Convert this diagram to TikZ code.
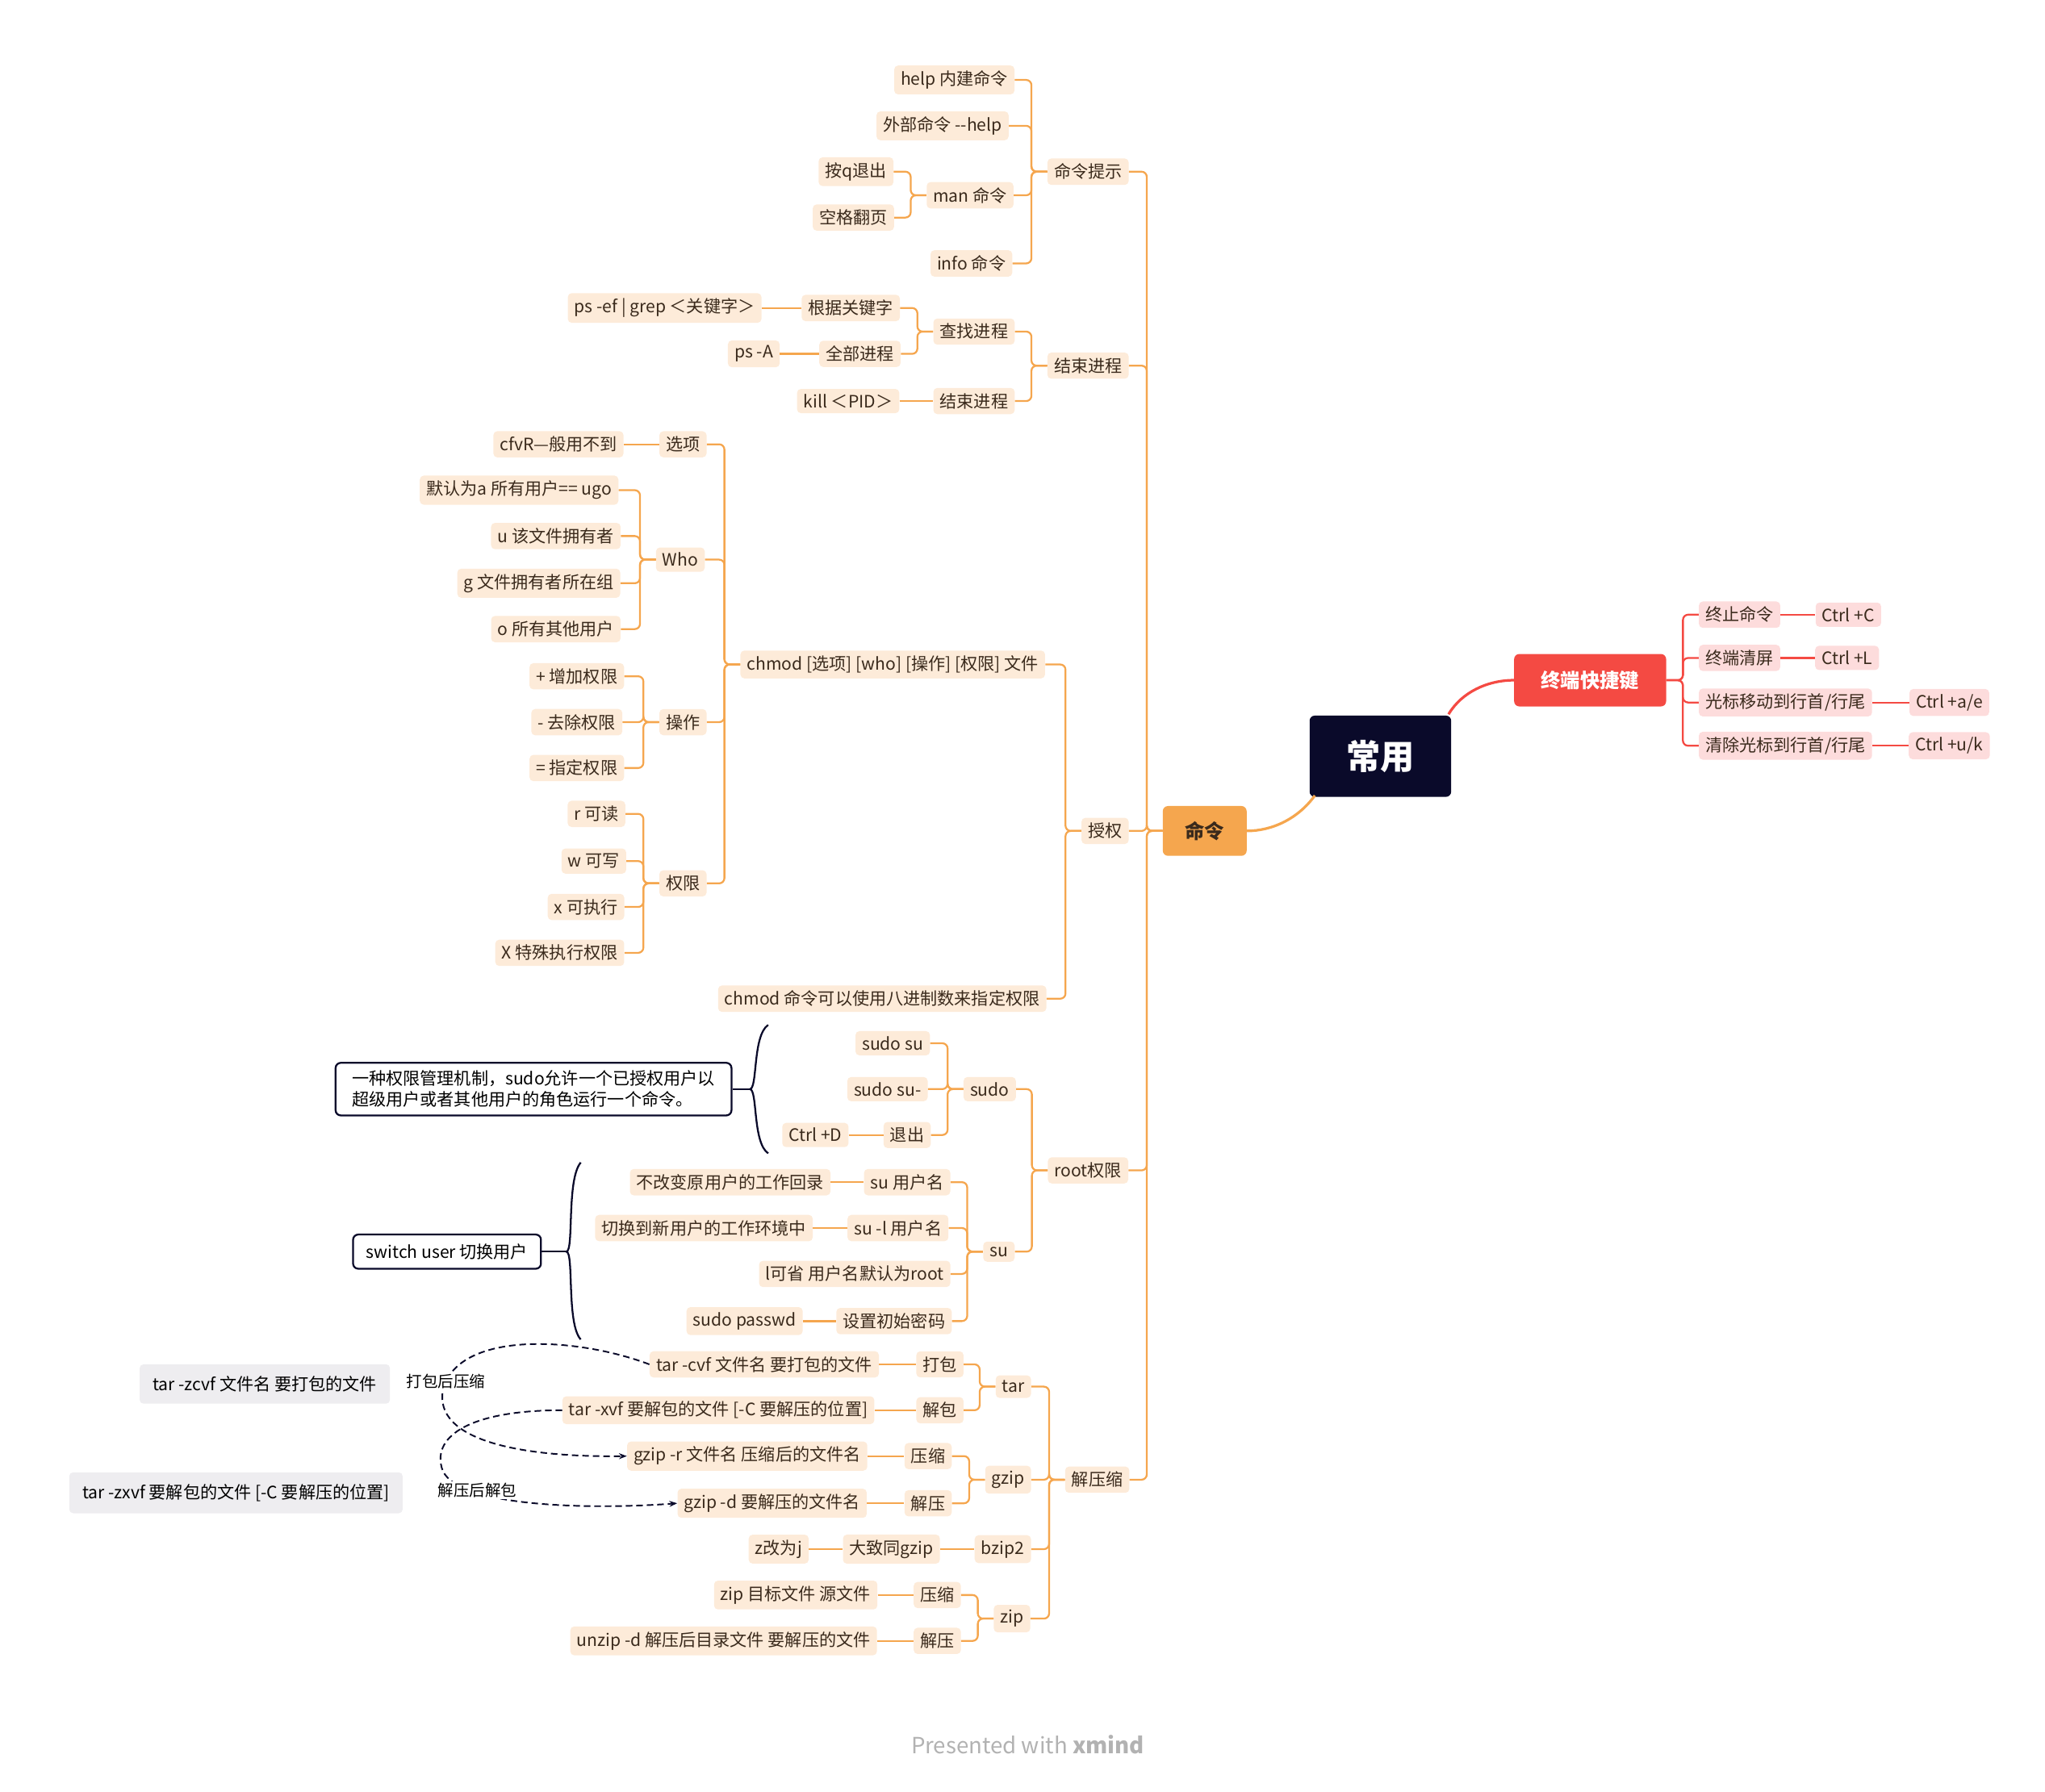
\documentclass[tikz,border=0pt]{standalone}
\usepackage{fontspec}
\setmainfont{Noto Sans CJK SC}
\usetikzlibrary{arrows.meta}
\definecolor{peach}{HTML}{FDEBD9}
\definecolor{org}{HTML}{F5A64E}
\definecolor{txt}{HTML}{3A2A1C}
\definecolor{pinkf}{HTML}{FDDCDC}
\definecolor{redc}{HTML}{F44A43}
\definecolor{navy}{HTML}{0A0A2A}
\definecolor{grayf}{HTML}{EEEDF0}
\tikzset{
 n/.style={fill=peach,rounded corners=3pt,inner xsep=5pt,inner ysep=4pt,text=txt,font=\fontsize{13}{15}\selectfont},
 r/.style={fill=pinkf,rounded corners=3pt,inner xsep=5pt,inner ysep=4pt,text=txt,font=\fontsize{13}{15}\selectfont},
 ln/.style={draw=org,line width=1.4pt,rounded corners=4pt},
 rl/.style={draw=redc,line width=1.4pt,rounded corners=4pt},
 call/.style={draw=navy,line width=1.4pt,fill=white,rounded corners=4pt,inner xsep=10pt,inner ysep=6pt,font=\fontsize{13}{16}\selectfont,align=left},
 gb/.style={fill=grayf,rounded corners=3pt,inner xsep=10pt,inner ysep=9pt,font=\fontsize{13}{15}\selectfont},
 dl/.style={draw=navy,line width=1.2pt,dash pattern=on 5pt off 3pt},
}
\newcommand{\cn}[3][ln]{\draw[#1] (#3.east) -| ([xshift=-12pt]#2.west) -- (#2.west);}
\begin{document}
\begin{tikzpicture}[x=1pt,y=-1pt]
\useasboundingbox (0,0) rectangle (1560,1367);
% main
\node[fill=navy,text=white,rounded corners=4pt,minimum width=108pt,minimum height=62pt,font=\fontsize{26}{30}\selectfont\bfseries] (root) at (1053,577) {常用};
\node[fill=org,text=txt,rounded corners=4pt,minimum width=64pt,minimum height=38pt,font=\fontsize{15}{18}\selectfont\bfseries] (cmd) at (919,634) {命令};
\node[fill=redc,text=white,rounded corners=4pt,minimum width=116pt,minimum height=40pt,font=\fontsize{15}{18}\selectfont\bfseries] (term) at (1213,519) {终端快捷键};
\draw[org,line width=2pt] (1003,607) .. controls (990,625) and (970,634) .. (cmd.east);
\draw[redc,line width=2pt] (1105,545) .. controls (1115,528) and (1135,519) .. (term.west);
% terminal
\node[r] (t1) at (1327,469) {终止命令};
\node[r] (t1a) at (1410,469) {Ctrl +C};
\node[r] (t2) at (1327,502) {终端清屏};
\node[r] (t2a) at (1409,502) {Ctrl +L};
\node[r] (t3) at (1362,536) {光标移动到行首/行尾};
\node[r] (t3a) at (1487,536) {Ctrl +a/e};
\node[r] (t4) at (1362,569) {清除光标到行首/行尾};
\node[r] (t4a) at (1487,569) {Ctrl +u/k};
\foreach \c in {t1,t2,t3,t4}{\draw[rl] (term.east) -- ([xshift=-12pt]term.east -| \c.west) |- (\c.west);}
\draw[rl] (t1.east)--(t1a.west); \draw[rl] (t2.east)--(t2a.west);
\draw[rl] (t3.east)--(t3a.west); \draw[rl] (t4.east)--(t4a.west);
% level 1
\node[n] (a) at (830,131) {命令提示};
\node[n] (b) at (830,279) {结束进程};
\node[n] (c) at (843,634) {授权};
\node[n] (d) at (830,893) {root权限};
\node[n] (e) at (837,1129) {解压缩};
\foreach \c in {a,b,c,d,e}{\cn{cmd}{\c}}
% 命令提示
\node[n] (a1) at (728,61) {help 内建命令};
\node[n] (a2) at (719,96) {外部命令 {-}{-}help};
\node[n] (a3) at (740,149) {man 命令};
\node[n] (a4) at (741,201) {info 命令};
\foreach \c in {a1,a2,a3,a4}{\cn{a}{\c}}
\node[n] (a31) at (653,131) {按q退出};
\node[n] (a32) at (651,166) {空格翻页};
\cn{a3}{a31}\cn{a3}{a32}
% 结束进程
\node[n] (b1) at (743,253) {查找进程};
\node[n] (b2) at (743,306) {结束进程};
\cn{b}{b1}\cn{b}{b2}
\node[n] (b11) at (649,235) {根据关键字};
\node[n] (b12) at (656,270) {全部进程};
\cn{b1}{b11}\cn{b1}{b12}
\node[n] (b111) at (507,235) {ps -ef | grep ＜关键字＞};
\node[n] (b121) at (575,270) {ps -A};
\node[n] (b21) at (647,306) {kill ＜PID＞};
\draw[ln] (b111.east)--(b11.west); \draw[ln] (b121.east)--(b12.west); \draw[ln] (b21.east)--(b2.west);
% 授权
\node[n] (c1) at (681,507) {chmod [选项] [who] [操作] [权限] 文件};
\node[n] (c2) at (673,762) {chmod 命令可以使用八进制数来指定权限};
\cn{c}{c1}\cn{c}{c2}
\node[n] (c11) at (521,339) {选项};
\node[n] (c12) at (519,427) {Who};
\node[n] (c13) at (521,551) {操作};
\node[n] (c14) at (521,674) {权限};
\foreach \c in {c11,c12,c13,c14}{\cn{c1}{\c}}
\node[n] (c111) at (426,339) {cfvR—般用不到};
\draw[ln] (c111.east)--(c11.west);
\node[n] (w1) at (396,374) {默认为a 所有用户== ugo};
\node[n] (w2) at (424,409) {u 该文件拥有者};
\node[n] (w3) at (411,445) {g 文件拥有者所在组};
\node[n] (w4) at (424,480) {o 所有其他用户};
\foreach \c in {w1,w2,w3,w4}{\cn{c12}{\c}}
\node[n] (o1) at (440,516) {+ 增加权限};
\node[n] (o2) at (440,551) {- 去除权限};
\node[n] (o3) at (440,586) {= 指定权限};
\foreach \c in {o1,o2,o3}{\cn{c13}{\c}}
\node[n] (p1) at (455,621) {r 可读};
\node[n] (p2) at (453,657) {w 可写};
\node[n] (p3) at (447,692) {x 可执行};
\node[n] (p4) at (427,727) {X 特殊执行权限};
\foreach \c in {p1,p2,p3,p4}{\cn{c14}{\c}}
% root
\node[n] (d1) at (755,831) {sudo};
\node[n] (d2) at (762,955) {su};
\cn{d}{d1}\cn{d}{d2}
\node[n] (s1) at (681,796) {sudo su};
\node[n] (s2) at (677,831) {sudo su-};
\node[n] (s3) at (692,866) {退出};
\foreach \c in {s1,s2,s3}{\cn{d1}{\c}}
\node[n] (s31) at (622,866) {Ctrl +D};
\draw[ln] (s31.east)--(s3.west);
\node[n] (u1) at (692,902) {su 用户名};
\node[n] (u2) at (685,937) {su -l 用户名};
\node[n] (u3) at (652,972) {l可省 用户名默认为root};
\node[n] (u4) at (682,1008) {设置初始密码};
\foreach \c in {u1,u2,u3,u4}{\cn{d2}{\c}}
\node[n] (u11) at (557,902) {不改变原用户的工作回录};
\node[n] (u21) at (537,937) {切换到新用户的工作环境中};
\node[n] (u41) at (568,1008) {sudo passwd};
\draw[ln] (u11.east)--(u1.west); \draw[ln] (u21.east)--(u2.west); \draw[ln] (u41.east)--(u4.west);
% 解压缩
\node[n] (e1) at (773,1058) {tar};
\node[n] (e2) at (769,1129) {gzip};
\node[n] (e3) at (765,1182) {bzip2};
\node[n] (e4) at (772,1235) {zip};
\foreach \c in {e1,e2,e3,e4}{\cn{e}{\c}}
\node[n] (e11) at (717,1041) {打包};
\node[n] (e12) at (717,1076) {解包};
\cn{e1}{e11}\cn{e1}{e12}
\node[n] (e111) at (583,1041) {tar -cvf 文件名 要打包的文件};
\node[n] (e121) at (548,1076) {tar -xvf 要解包的文件 [-C 要解压的位置]};
\draw[ln] (e111.east)--(e11.west); \draw[ln] (e121.east)--(e12.west);
\node[n] (e21) at (708,1111) {压缩};
\node[n] (e22) at (708,1147) {解压};
\cn{e2}{e21}\cn{e2}{e22}
\node[n] (e211) at (570,1111) {gzip -r 文件名 压缩后的文件名};
\node[n] (e221) at (589,1147) {gzip -d 要解压的文件名};
\draw[ln] (e211.east)--(e21.west); \draw[ln] (e221.east)--(e22.west);
\node[n] (e31) at (680,1182) {大致同gzip};
\node[n] (e311) at (594,1182) {z改为j};
\draw[ln] (e31.east)--(e3.west); \draw[ln] (e311.east)--(e31.west);
\node[n] (e41) at (715,1217) {压缩};
\node[n] (e42) at (715,1252) {解压};
\cn{e4}{e41}\cn{e4}{e42}
\node[n] (e411) at (607,1217) {zip 目标文件 源文件};
\node[n] (e421) at (552,1252) {unzip -d 解压后目录文件 要解压的文件};
\draw[ln] (e411.east)--(e41.west); \draw[ln] (e421.east)--(e42.west);
% callouts
\node[call,minimum width=302pt] (k1) at (407,831) {一种权限管理机制，sudo允许一个已授权用户以\\超级用户或者其他用户的角色运行一个命令。};
\draw[navy,line width=1.4pt] (586,782) .. controls (574,790) and (578,831) .. (572,831) .. controls (578,831) and (574,872) .. (586,880);
\draw[navy,line width=1.4pt] (572,831) -- (k1.east);
\node[call,inner ysep=7pt] (k2) at (341,955) {switch user 切换用户};
\draw[navy,line width=1.4pt] (443,887) .. controls (432,900) and (438,955) .. (432,955) .. controls (438,955) and (432,1010) .. (443,1022);
\draw[navy,line width=1.4pt] (432,955) -- (k2.east);
\node[gb] (g1) at (202,1056) {tar -zcvf 文件名 要打包的文件};
\node[gb] (g2) at (180,1139) {tar -zxvf 要解包的文件 [-C 要解压的位置]};
\draw[dl,-{Stealth[length=6pt]}] (e111.west) .. controls (440,1020) and (350,1015) .. (338,1060) .. controls (330,1100) and (400,1112) .. (e211.west);
\draw[dl,-{Stealth[length=6pt]}] (e121.west) .. controls (360,1076) and (330,1095) .. (337,1120) .. controls (345,1150) and (450,1152) .. (e221.west);
\node[fill=white,inner sep=1pt,font=\fontsize{12}{14}\selectfont] (l1) at (340,1054) {打包后压缩};
\node[fill=white,inner sep=1pt,font=\fontsize{12}{14}\selectfont] (l2) at (364,1137) {解压后解包};
\node[text=gray!60,font=\fontsize{17}{20}\selectfont] (wm) at (784,1331) {Presented with \textbf{xmind}};
\end{tikzpicture}
\end{document}
